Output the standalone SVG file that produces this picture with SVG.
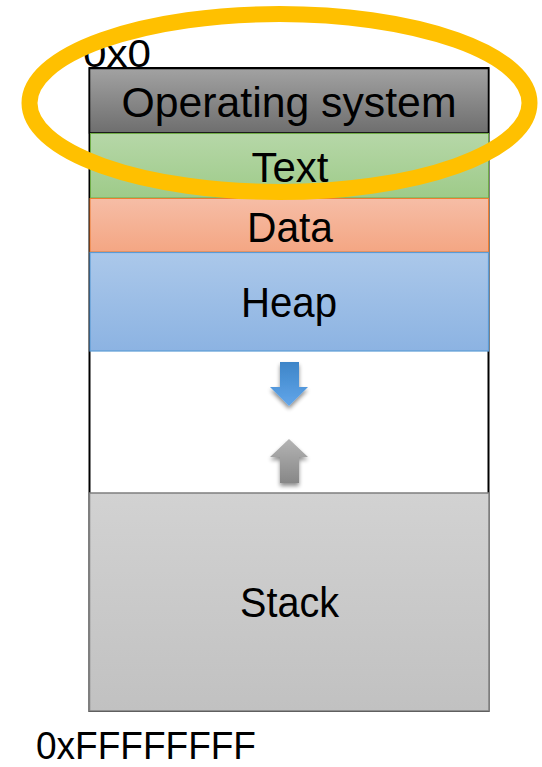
<svg xmlns="http://www.w3.org/2000/svg" width="542" height="767" viewBox="0 0 542 767">
<style>
  .lbl { font-family: "Liberation Sans", Arial, sans-serif; font-size: 42px; fill: #000; text-anchor: middle; }
  .addr { font-family: "Liberation Sans", Arial, sans-serif; font-size: 38px; fill: #000; }
</style>
<defs>
  <linearGradient id="gOS" x1="0" y1="0" x2="0" y2="1"><stop offset="0" stop-color="#a2a2a2"/><stop offset="1" stop-color="#6e6e6e"/></linearGradient>
  <linearGradient id="gText" x1="0" y1="0" x2="0" y2="1"><stop offset="0" stop-color="#b6d7a8"/><stop offset="1" stop-color="#9ecb89"/></linearGradient>
  <linearGradient id="gData" x1="0" y1="0" x2="0" y2="1"><stop offset="0" stop-color="#f6bda6"/><stop offset="1" stop-color="#f4a683"/></linearGradient>
  <linearGradient id="gHeap" x1="0" y1="0" x2="0" y2="1"><stop offset="0" stop-color="#abc8ea"/><stop offset="1" stop-color="#8cb3e2"/></linearGradient>
  <linearGradient id="gStack" x1="0" y1="0" x2="0" y2="1"><stop offset="0" stop-color="#d2d2d2"/><stop offset="1" stop-color="#c1c1c1"/></linearGradient>
  <linearGradient id="gBlue" x1="0" y1="0" x2="0" y2="1"><stop offset="0" stop-color="#3d85c8"/><stop offset="1" stop-color="#62a6ea"/></linearGradient>
  <linearGradient id="gGray" x1="0" y1="0" x2="0" y2="1"><stop offset="0" stop-color="#b4b4b4"/><stop offset="1" stop-color="#878787"/></linearGradient>
  <filter id="shadow" x="-50%" y="-50%" width="200%" height="200%">
    <feGaussianBlur in="SourceAlpha" stdDeviation="2"/>
    <feOffset dx="0" dy="3" result="b"/>
    <feComponentTransfer><feFuncA type="linear" slope="0.45"/></feComponentTransfer>
    <feMerge><feMergeNode/><feMergeNode in="SourceGraphic"/></feMerge>
  </filter>
</defs>
<rect width="542" height="767" fill="#ffffff"/>

<g id="frame">
  <rect x="89.5" y="68" width="399" height="643" fill="#ffffff" stroke="#000000" stroke-width="2"/>
</g>

<g id="addr-top">
  <text class="addr" x="83" y="67" textLength="68" lengthAdjust="spacingAndGlyphs">0x0</text>
</g>

<g id="os">
  <rect x="89.5" y="68.5" width="399" height="64.5" fill="url(#gOS)" stroke="#000000" stroke-width="1.5"/>
  <text class="lbl" x="289" y="117" textLength="335" lengthAdjust="spacingAndGlyphs">Operating system</text>
</g>

<g id="text-seg">
  <rect x="90.5" y="133.5" width="398" height="64.5" fill="url(#gText)" stroke="#70ad47" stroke-width="1"/>
  <text class="lbl" x="290" y="182" textLength="77" lengthAdjust="spacingAndGlyphs">Text</text>
</g>

<g id="data-seg">
  <rect x="90" y="198.5" width="398.5" height="53.5" fill="url(#gData)" stroke="#ed7d31" stroke-width="1"/>
  <text class="lbl" x="290" y="242" textLength="86" lengthAdjust="spacingAndGlyphs">Data</text>
</g>

<g id="heap-seg">
  <rect x="90" y="252.5" width="398.5" height="98.5" fill="url(#gHeap)" stroke="#5b9bd5" stroke-width="1.2"/>
  <text class="lbl" x="289" y="317" textLength="96" lengthAdjust="spacingAndGlyphs">Heap</text>
</g>

<g id="stack-seg">
  <rect x="89.5" y="493" width="399.5" height="218" fill="url(#gStack)" stroke="#7f7f7f" stroke-width="1.5"/>
  <text class="lbl" x="289.5" y="617" textLength="99" lengthAdjust="spacingAndGlyphs">Stack</text>
</g>

<g id="arrows">
  <polygon points="280,362 299,362 299,387 308,387 289,406 270,387 280,387" fill="url(#gBlue)" filter="url(#shadow)"/>
  <polygon points="289,439 308,457 299,457 299,483 280,483 280,457 270,457" fill="url(#gGray)" filter="url(#shadow)"/>
</g>

<g id="addr-bottom">
  <text class="addr" x="36" y="759" textLength="220" lengthAdjust="spacingAndGlyphs">0xFFFFFFFF</text>
</g>

<g id="highlight">
  <ellipse cx="279.5" cy="103" rx="250" ry="89" fill="none" stroke="#ffc000" stroke-width="16"/>
</g>
</svg>
